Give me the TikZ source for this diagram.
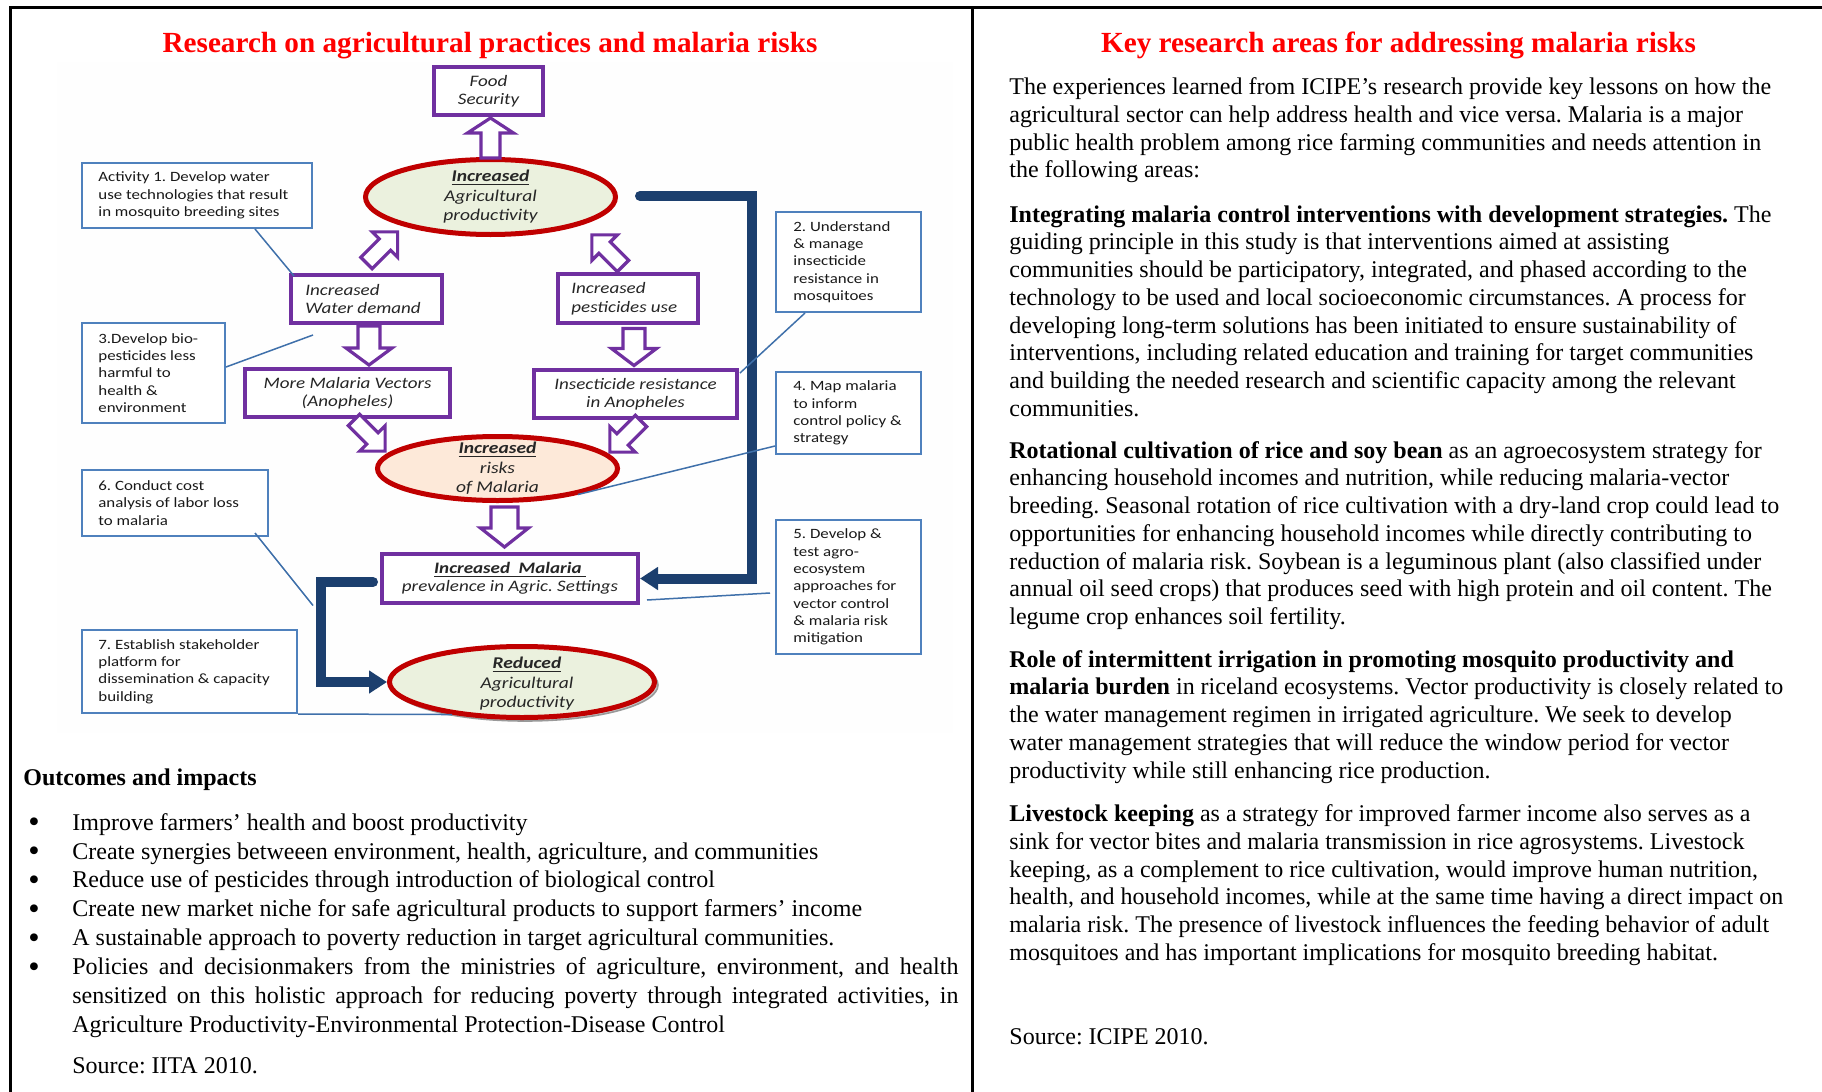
\documentclass[tikz,border=0pt]{standalone}
\usepackage{fontspec}
\setmainfont{Liberation Serif}
\newfontfamily\diagfont[FakeStretch=1.19]{Carlito}
\usetikzlibrary{shapes.geometric,arrows.meta,calc}
\frenchspacing

\definecolor{purp}{HTML}{7030A0}
\definecolor{dred}{HTML}{C00000}
\definecolor{lgreen}{HTML}{EBF1DE}
\definecolor{peach}{HTML}{FDE9D9}
\definecolor{actblue}{HTML}{4F81BD}
\definecolor{leaderblue}{HTML}{3F70AA}
\definecolor{navy}{HTML}{1C3F6E}
\definecolor{titlered}{HTML}{FF0000}

% hollow block arrow: tail point, direction angle, length, shaft half-width, head half-width, head length
\newcommand{\hollowarrow}[6]{%
  \begin{scope}[shift={#1},rotate=#2]
    \draw[hollow] (0,-#4) -- ({#3-#6},-#4) -- ({#3-#6},-#5) -- (#3,0)
      -- ({#3-#6},#5) -- ({#3-#6},#4) -- (0,#4) -- cycle;
  \end{scope}}
\newcommand{\bul}{\makebox[22.5pt][l]{\strut\hspace*{0.5pt}\raisebox{-1.3pt}{\scalebox{1.35}{\textbullet}}}}

\tikzset{
  actbox/.style={draw=actblue, line width=1pt, fill=white, inner sep=0pt},
  acttext/.style={inner sep=0pt, align=left, anchor=west, text=black!90,
    font=\diagfont\fontsize{7.1pt}{8.65pt}\selectfont},
  purpbox/.style={draw=purp, line width=2pt, fill=white, inner sep=0pt, align=center,
    text=black!85, font=\diagfont\itshape\fontsize{8pt}{9.25pt}\selectfont},
  purptext/.style={inner sep=0pt, align=left, anchor=west, text=black!85,
    font=\diagfont\itshape\fontsize{8pt}{9.25pt}\selectfont},
  oval/.style={ellipse, draw=dred, line width=2.5pt, inner sep=0pt},
  ovaltext/.style={align=center, inner sep=0pt, text=black!85,
    font=\diagfont\itshape\fontsize{8.2pt}{9.75pt}\selectfont},
  leader/.style={draw=leaderblue, line width=0.75pt},
  feedback/.style={draw=navy, line width=5pt, line cap=round,
    -{Triangle[length=9pt,width=11pt]}},
  hollow/.style={draw=purp, line width=1.6pt, fill=white, line join=miter},
  body/.style={inner sep=0pt, align=left, anchor=north west,
    font=\fontsize{12pt}{13.85pt}\selectfont},
  heading/.style={inner sep=0pt, text=titlered,
    font=\bfseries\fontsize{14.6pt}{16pt}\selectfont},
}

\begin{document}
\begin{tikzpicture}[x=0.5pt,y=-0.5pt]
\useasboundingbox (0,0) rectangle (1822,1092);

% page frame and column divider
\draw[line width=1.5pt] (10,1092) -- (10,7) -- (1822,7);
\draw[line width=1.5pt] (972,7) -- (972,1092);

% faint panel behind the diagram
\fill[black!0.5] (57,62) rectangle (953,733);

% ---------- left column ----------
\node[heading] (ltitle) at (490,45.5) {Research on agricultural practices and malaria risks};

% ovals
\node[oval, fill=lgreen, minimum width=125pt, minimum height=37.5pt] (agri) at (490.5,197) {};
\node[oval, fill=peach, minimum width=120pt, minimum height=32pt] (risks) at (497.5,468.5) {};
\node[ellipse, draw=gray!80, line width=0.8pt, fill=gray!40, minimum width=133pt,
      minimum height=36pt, inner sep=0pt] (redshadow) at (525,685) {};
\node[oval, fill=lgreen, minimum width=132.5pt, minimum height=35.5pt] (reduced) at (522,682) {};

\node[ovaltext] (agrit) at (agri) {\underline{\textbf{Increased}}\\Agricultural\\productivity};
\node[ovaltext] (riskst) at (risks) {\underline{\textbf{Increased}}\\risks\\of Malaria};
\node[ovaltext] (reducedt) at ($(reduced)+(5,2)$) {\underline{\textbf{Reduced}}\\Agricultural\\productivity};

% purple boxes
\node[purpbox, minimum width=54.5pt, minimum height=24pt] (food) at (488.5,91) {Food\\Security};
\node[purpbox, minimum width=75.5pt, minimum height=24pt] (water) at (366.5,299) {};
\node[purptext] (watert) at ($(water.west)+(16,0)$) {Increased\\Water demand};
\node[purpbox, minimum width=70pt, minimum height=24.5pt] (pest) at (628,298.5) {};
\node[purptext] (pestt) at ($(pest.west)+(15,0)$) {Increased\\pesticides use};
\node[purpbox, minimum width=102.5pt, minimum height=24pt] (vectors) at (347.5,393) {More Malaria Vectors\\(Anopheles)};
\node[purpbox, minimum width=101.5pt, minimum height=24pt] (insect) at (635.5,394) {Insecticide resistance\\in Anopheles};
\node[purpbox, minimum width=128pt, minimum height=24.5pt] (prev) at (510,578.5)
  {\underline{\textbf{Increased\ \ Malaria\ }}\\prevalence in Agric. Settings};

% hollow block arrows
\hollowarrow{($(agri.north)+(0,1)$)}{90}{40}{9.5}{23}{15}
\hollowarrow{($(water.north)+(0,-10)$)}{45}{44}{8}{18}{18}
\hollowarrow{($(pest.north)+(-5,-6)$)}{135}{44}{8}{18}{18}
\hollowarrow{($(water.south)+(2.5,1)$)}{-90}{39}{11}{23}{17}
\hollowarrow{($(pest.south)+(6,3.5)$)}{-90}{37}{11}{22.5}{17}
\hollowarrow{($(vectors.south)+(6.5,1)$)}{-45}{44}{8}{18}{18}
\hollowarrow{($(insect.south)+(5.5,1)$)}{-135}{44}{8}{18}{18}
\hollowarrow{($(risks.south)+(7,4)$)}{-90}{40}{13.5}{24}{19}

% feedback connectors
\coordinate (fbR) at ($(agri.east)+(22,-1)$);
\draw[feedback] (fbR) -- ++(112,0) |- (prev.east);
\coordinate (fbL) at ($(prev.west)+(-7,3.5)$);
\draw[feedback] (fbL) -- ++(-52,0) |- (reduced.west);

% activity boxes
\node[actbox, minimum width=115pt, minimum height=32.5pt] (act1) at (197,195.5) {};
\node[acttext] (act1t) at ($(act1.west)+(17,0)$) {Activity 1. Develop water\\use technologies that result\\in mosquito breeding sites};
\node[actbox, minimum width=72.5pt, minimum height=50pt] (act2) at (848.5,262) {};
\node[acttext] (act2t) at ($(act2.west)+(18,0)$) {2. Understand\\\& manage\\insecticide\\resistance in\\mosquitoes};
\node[actbox, minimum width=71.5pt, minimum height=50pt] (act3) at (153.5,373) {};
\node[acttext] (act3t) at ($(act3.west)+(17,0)$) {3.Develop bio-\\pesticides less\\harmful to\\health \&\\environment};
\node[actbox, minimum width=72.5pt, minimum height=41pt] (act4) at (848.5,413) {};
\node[acttext] (act4t) at ($(act4.west)+(18,0)$) {4. Map malaria\\to inform\\control policy \&\\strategy};
\node[actbox, minimum width=72.5pt, minimum height=67pt] (act5) at (848.5,587) {};
\node[acttext] (act5t) at ($(act5.west)+(18,0)$) {5. Develop \&\\test agro-\\ecosystem\\approaches for\\vector control\\\& malaria risk\\mitigation};
\node[actbox, minimum width=93pt, minimum height=33pt] (act6) at (175,503) {};
\node[acttext] (act6t) at ($(act6.west)+(17,0)$) {6. Conduct cost\\analysis of labor loss\\to malaria};
\node[actbox, minimum width=107.5pt, minimum height=41.5pt] (act7) at (189.5,671.5) {};
\node[acttext] (act7t) at ($(act7.west)+(17,0)$) {7. Establish stakeholder\\platform for\\dissemination \& capacity\\building};

% leader lines from activities
\draw[leader] ($(act1.south west)!0.75!(act1.south east)$) -- ($(water.north west)+(5,3)$);
\coordinate (act3end) at ($(water.south west)+(24,10)$);
\draw[leader] ($(act3.east)+(0,-6)$) -- (act3end);
\draw[leader] ($(act2.south west)+(30,0)$) -- ($(insect.north east)+(1,5)$);
\draw[leader] ($(act4.south west)+(0,-9)$) -- (risks.-18);
\coordinate (act5end) at ($(prev.south east)+(7,-5)$);
\draw[leader] ($(act5.west)+(-5,6)$) -- (act5end);
\coordinate (act6end) at ($(prev.west)+(-67,27)$);
\draw[leader] ($(act6.south east)+(-14,-4)$) -- (act6end);
\draw[leader] (act7.south east) -- (reduced.205);

% outcomes text
\node[body] (outhead) at (23,766) {\strut\textbf{Outcomes and impacts}};
\node[body, font=\fontsize{12pt}{14.45pt}\selectfont] (outlist) at (27,809.5) {%
\bul Improve farmers’ health and boost productivity\\
\bul Create synergies betweeen environment, health, agriculture, and communities\\
\bul Reduce use of pesticides through introduction of biological control\\
\bul Create new market niche for safe agricultural products to support farmers’ income\\
\bul A sustainable approach to poverty reduction in target agricultural communities.\\
\bul \makebox[443pt][s]{Policies and decisionmakers from the ministries of agriculture, environment, and health}\\
\hspace*{22.5pt}\makebox[443pt][s]{sensitized on this holistic approach for reducing poverty through integrated activities, in}\\
\hspace*{22.5pt}Agriculture Productivity-Environmental Protection-Disease Control};
\node[body] (srcL) at (72,1054) {\strut Source: IITA 2010.};

% ---------- right column ----------
\node[heading] (rtitle) at (1398.5,45) {Key research areas for addressing malaria risks};

\node[body] (intro) at (1009,75) {\strut The experiences learned from ICIPE’s research provide key lessons on how the\\
agricultural sector can help address health and vice versa. Malaria is a major\\
public health problem among rice farming communities and needs attention in\\
the following areas:};

\node[body] (para1) at (1009,202.5) {\strut\textbf{Integrating malaria control interventions with development strategies.} The\\
guiding principle in this study is that interventions aimed at assisting\\
communities should be participatory, integrated, and phased according to the\\
technology to be used and local socioeconomic circumstances. A process for\\
developing long-term solutions has been initiated to ensure sustainability of\\
interventions, including related education and training for target communities\\
and building the needed research and scientific capacity among the relevant\\
communities.};

\node[body] (para2) at (1009,438.5) {\strut\textbf{Rotational cultivation of rice and soy bean} as an agroecosystem strategy for\\
enhancing household incomes and nutrition, while reducing malaria-vector\\
breeding. Seasonal rotation of rice cultivation with a dry-land crop could lead to\\
opportunities for enhancing household incomes while directly contributing to\\
reduction of malaria risk. Soybean is a leguminous plant (also classified under\\
annual oil seed crops) that produces seed with high protein and oil content. The\\
legume crop enhances soil fertility.};

\node[body] (para3) at (1009,647.5) {\strut\textbf{Role of intermittent irrigation in promoting mosquito productivity and}\\
\textbf{malaria burden} in riceland ecosystems. Vector productivity is closely related to\\
the water management regimen in irrigated agriculture. We seek to develop\\
water management strategies that will reduce the window period for vector\\
productivity while still enhancing rice production.};

\node[body] (para4) at (1009,802) {\strut\textbf{Livestock keeping} as a strategy for improved farmer income also serves as a\\
sink for vector bites and malaria transmission in rice agrosystems. Livestock\\
keeping, as a complement to rice cultivation, would improve human nutrition,\\
health, and household incomes, while at the same time having a direct impact on\\
malaria risk. The presence of livestock influences the feeding behavior of adult\\
mosquitoes and has important implications for mosquito breeding habitat.};

\node[body] (srcR) at (1009,1025) {\strut Source: ICIPE 2010.};
\end{tikzpicture}
\end{document}
